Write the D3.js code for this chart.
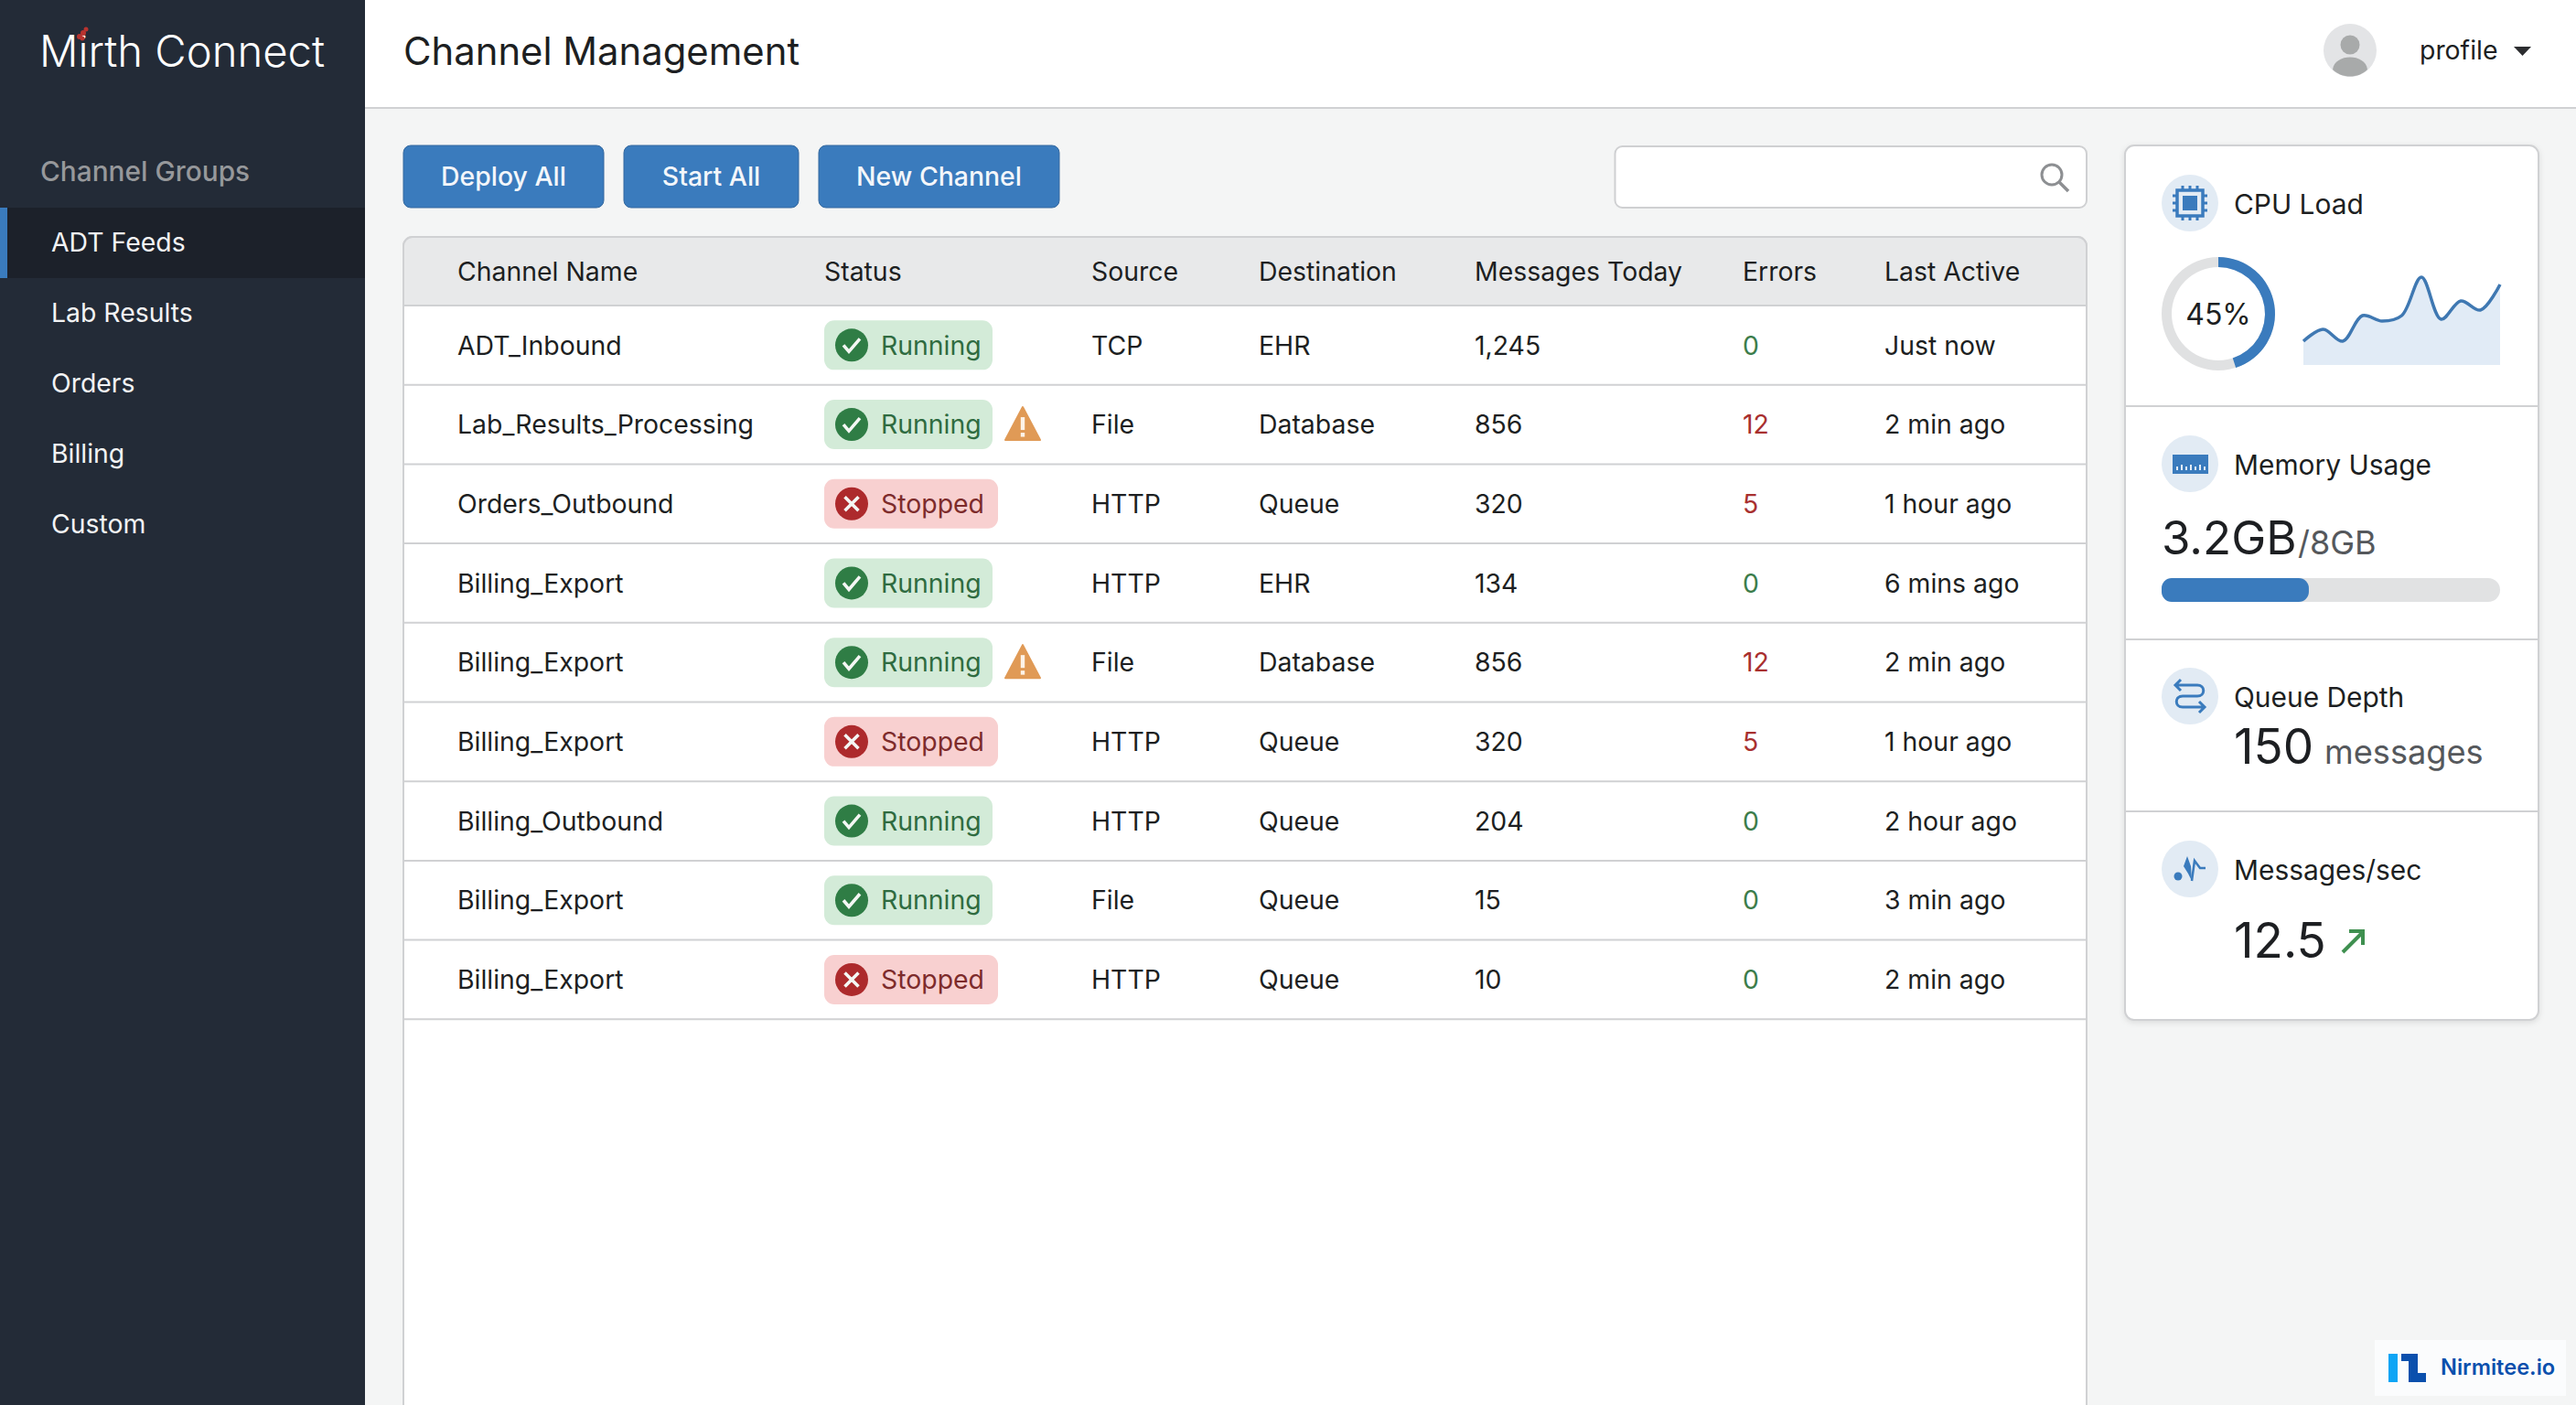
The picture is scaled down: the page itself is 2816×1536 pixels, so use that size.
<!DOCTYPE html>
<html>
<head>
<meta charset="utf-8">
<title>Channel Management</title>
<script src="https://cdn.jsdelivr.net/npm/d3@7"></script>
<style>
  html, body { margin: 0; padding: 0; background: #f4f5f5; }
  svg { display: block; font-family: Inter, Roboto, sans-serif; }
</style>
</head>
<body>
<div id="app"></div>
<script>
// data
var navItems = ["ADT Feeds", "Lab Results", "Orders", "Billing", "Custom"];
var buttonLabels = ["Deploy All", "Start All", "New Channel"];
var columnNames = ["Channel Name", "Status", "Source", "Destination", "Messages Today", "Errors", "Last Active"];

var channelNames = ["ADT_Inbound", "Lab_Results_Processing", "Orders_Outbound", "Billing_Export", "Billing_Export", "Billing_Export", "Billing_Outbound", "Billing_Export", "Billing_Export"];
var statuses = ["Running", "Running", "Stopped", "Running", "Running", "Stopped", "Running", "Running", "Stopped"];
var warnings = [false, true, false, false, true, false, false, false, false];
var sources = ["TCP", "File", "HTTP", "HTTP", "File", "HTTP", "HTTP", "File", "HTTP"];
var destinations = ["EHR", "Database", "Queue", "EHR", "Database", "Queue", "Queue", "Queue", "Queue"];
var messagesToday = [1245, 856, 320, 134, 856, 320, 204, 15, 10];
var errorCounts = [0, 12, 5, 0, 12, 5, 0, 0, 0];
var lastActive = ["Just now", "2 min ago", "1 hour ago", "6 mins ago", "2 min ago", "1 hour ago", "2 hour ago", "3 min ago", "2 min ago"];

var cpuPercent = 45;
var cpuHistory = [26, 39, 26, 54, 48, 54, 96, 50, 70, 60, 88];
var memoryBarPercent = 43.5;
var memoryUsed = "3.2GB";
var memoryTotal = "/8GB";
var queueDepth = 150;
var messagesPerSec = 12.5;

var width = 2816, height = 1536;
var blue = "#3a7bbd", iconBg = "#e2ebf4", lineGrey = "#d0d1d3", ink = "#1d1f22";
var bodySize = 28.4;

var svg = d3.select("#app").append("svg")
  .attr("width", width).attr("height", height)
  .attr("viewBox", "0 0 " + width + " " + height);

function label(g, x, y, txt, size, fill, weight) {
  return g.append("text")
    .attr("x", x).attr("y", y)
    .attr("font-size", size)
    .attr("font-weight", weight || 400)
    .attr("fill", fill || ink)
    .text(txt);
}

// page background + header
svg.append("rect").attr("width", width).attr("height", height).attr("fill", "#f4f5f5");
svg.append("rect").attr("x", 399).attr("width", width - 399).attr("height", 118).attr("fill", "#ffffff");
svg.append("line").attr("x1", 399).attr("x2", width).attr("y1", 118).attr("y2", 118).attr("stroke", lineGrey).attr("stroke-width", 2);

// sidebar
var side = svg.append("g");
side.append("rect").attr("width", 399).attr("height", height).attr("fill", "#232b37");
label(side, 43, 73, "Mirth Connect", 47.2, "#ffffff", 300);
side.append("g").selectAll("circle")
  .data([[87, 40, 3], [91, 36, 3], [94, 32, 2.5], [90, 42, 2.5]])
  .enter().append("circle")
  .attr("cx", function(d) { return d[0]; })
  .attr("cy", function(d) { return d[1]; })
  .attr("r", function(d) { return d[2]; })
  .attr("fill", "#b8332f");
label(side, 44, 198, "Channel Groups", 29.8, "#96989b", 500);

var navY = d3.scaleBand().domain(navItems).range([227, 227 + 77 * navItems.length]);
side.append("rect").attr("y", navY("ADT Feeds")).attr("width", 399).attr("height", navY.bandwidth()).attr("fill", "#1c212a");
side.append("rect").attr("y", navY("ADT Feeds")).attr("width", 8).attr("height", navY.bandwidth()).attr("fill", blue);
side.selectAll("text.nav").data(navItems).enter().append("text")
  .attr("class", "nav")
  .attr("x", 56)
  .attr("y", function(d) { return navY(d) + navY.bandwidth() / 2; })
  .attr("dy", "0.34em")
  .attr("font-size", bodySize)
  .attr("fill", "#f2f3f4")
  .text(function(d) { return d; });

// header texts
label(svg, 441, 71, "Channel Management", 41.8, ink, 400);
svg.append("circle").attr("cx", 2569).attr("cy", 55).attr("r", 29).attr("fill", "#e3e4e6");
svg.append("circle").attr("cx", 2569).attr("cy", 49).attr("r", 10.5).attr("fill", "#a8aaaa");
svg.append("path").attr("d", "M2550,76 C2552,58 2586,58 2588,76 C2578,86 2560,86 2550,76 Z").attr("fill", "#a8aaaa");
label(svg, 2645, 65, "profile", bodySize, ink);
svg.append("path").attr("d", "M2748,51 L2767,51 L2757.5,61 Z").attr("fill", "#2c2d30");

// toolbar buttons
var buttonX = [441, 682, 895], buttonW = [219, 191, 263];
var buttons = svg.selectAll("g.btn").data(buttonLabels).enter().append("g").attr("class", "btn");
buttons.append("rect")
  .attr("x", function(d, i) { return buttonX[i]; })
  .attr("y", 159).attr("height", 68).attr("rx", 8)
  .attr("width", function(d, i) { return buttonW[i]; })
  .attr("fill", blue).attr("stroke", "#35699f").attr("stroke-width", 1);
buttons.append("text")
  .attr("x", function(d, i) { return buttonX[i] + buttonW[i] / 2; })
  .attr("y", 193).attr("dy", "0.36em")
  .attr("text-anchor", "middle")
  .attr("font-size", bodySize).attr("font-weight", 500).attr("fill", "#f3f6fa")
  .text(function(d) { return d; });

// search box
svg.append("rect").attr("x", 1765.5).attr("y", 160).attr("width", 515.5).attr("height", 67).attr("rx", 8)
  .attr("fill", "#ffffff").attr("stroke", "#cfd0d2").attr("stroke-width", 2);
svg.append("circle").attr("cx", 2243).attr("cy", 191).attr("r", 11).attr("fill", "none").attr("stroke", "#8d8f92").attr("stroke-width", 3);
svg.append("line").attr("x1", 2251).attr("y1", 199).attr("x2", 2261).attr("y2", 209).attr("stroke", "#8d8f92").attr("stroke-width", 3.5);

// table
var rowIdx = d3.range(channelNames.length);
var rowY = d3.scaleBand().domain(rowIdx).range([334, 334 + 86.7 * rowIdx.length]);
var colX = d3.scaleOrdinal().domain(columnNames).range([500, 901, 1193, 1376, 1612, 1905, 2060]);
var tableLeft = 441, tableRight = 2281;

var table = svg.append("g");
table.append("path")
  .attr("d", "M" + tableLeft + "," + (height + 5) + " V269 a10,10 0 0 1 10,-10 H" + (tableRight - 10) + " a10,10 0 0 1 10,10 V" + (height + 5) + " Z")
  .attr("fill", "#ffffff").attr("stroke", lineGrey).attr("stroke-width", 2);
table.append("path")
  .attr("d", "M" + tableLeft + ",334 V269 a10,10 0 0 1 10,-10 H" + (tableRight - 10) + " a10,10 0 0 1 10,10 V334 Z")
  .attr("fill", "#e8e9ea").attr("stroke", lineGrey).attr("stroke-width", 2);

table.selectAll("text.head").data(columnNames).enter().append("text")
  .attr("class", "head")
  .attr("x", function(d) { return colX(d); })
  .attr("y", 297).attr("dy", "0.36em")
  .attr("font-size", bodySize).attr("fill", ink)
  .text(function(d) { return d; });

table.selectAll("line.rowline").data(rowIdx).enter().append("line")
  .attr("class", "rowline")
  .attr("x1", tableLeft).attr("x2", tableRight)
  .attr("y1", function(d) { return rowY(d) + rowY.bandwidth(); })
  .attr("y2", function(d) { return rowY(d) + rowY.bandwidth(); })
  .attr("stroke", lineGrey).attr("stroke-width", 2);

var statusStyle = {
  Running: { pill: "#d3ebd8", icon: "#2f7d45", text: "#2f6b40", w: 184 },
  Stopped: { pill: "#f8d0d0", icon: "#ad2a2c", text: "#7d2b2b", w: 190 }
};

var rows = table.selectAll("g.row").data(rowIdx).enter().append("g")
  .attr("class", "row")
  .attr("transform", function(d) { return "translate(0," + (rowY(d) + rowY.bandwidth() / 2) + ")"; });

function cell(col, valueOf, fillOf) {
  rows.append("text")
    .attr("x", colX(col)).attr("dy", "0.36em")
    .attr("font-size", bodySize)
    .attr("fill", fillOf || ink)
    .text(valueOf);
}
cell("Channel Name", function(d) { return channelNames[d]; });
cell("Source", function(d) { return sources[d]; });
cell("Destination", function(d) { return destinations[d]; });
cell("Messages Today", function(d) { return d3.format(",")(messagesToday[d]); });
cell("Errors", function(d) { return errorCounts[d]; }, function(d) { return errorCounts[d] > 0 ? "#a8302f" : "#3c7d4b"; });
cell("Last Active", function(d) { return lastActive[d]; });

// status pills
rows.append("rect")
  .attr("x", colX("Status")).attr("y", -27).attr("height", 54).attr("rx", 11)
  .attr("width", function(d) { return statusStyle[statuses[d]].w; })
  .attr("fill", function(d) { return statusStyle[statuses[d]].pill; });
rows.append("circle")
  .attr("cx", colX("Status") + 30).attr("r", 18)
  .attr("fill", function(d) { return statusStyle[statuses[d]].icon; });
rows.append("path")
  .attr("transform", "translate(" + (colX("Status") + 30) + ",0)")
  .attr("d", function(d) { return statuses[d] === "Running" ? "M-9,0 L-3,7 L9,-7" : "M-7.5,-7.5 L7.5,7.5 M7.5,-7.5 L-7.5,7.5"; })
  .attr("fill", "none").attr("stroke", "#f4f7f4").attr("stroke-width", 3.6);
rows.append("text")
  .attr("x", colX("Status") + 62).attr("dy", "0.36em")
  .attr("font-size", bodySize)
  .attr("fill", function(d) { return statusStyle[statuses[d]].text; })
  .text(function(d) { return statuses[d]; });

// warning triangles
var warn = rows.filter(function(d) { return warnings[d]; }).append("g").attr("transform", "translate(1118,0)");
warn.append("path").attr("d", "M0,-19 L19,17 L-19,17 Z").attr("fill", "#e09a56").attr("stroke", "#e09a56").attr("stroke-width", 2).attr("stroke-linejoin", "round");
warn.append("rect").attr("x", -2.2).attr("y", -8).attr("width", 4.4).attr("height", 14).attr("fill", "#fdf3e8");
warn.append("rect").attr("x", -2.2).attr("y", 9).attr("width", 4.4).attr("height", 4.5).attr("fill", "#fdf3e8");

// metric card
var card = svg.append("g");
card.append("rect").attr("x", 2323).attr("y", 159).attr("width", 452).attr("height", 956).attr("rx", 10)
  .attr("fill", "#ffffff").attr("stroke", lineGrey).attr("stroke-width", 2)
  .style("filter", "drop-shadow(0 2px 3px rgba(0,0,0,0.10))");
[444, 699, 887].forEach(function(y) {
  card.append("line").attr("x1", 2323).attr("x2", 2775).attr("y1", y).attr("y2", y).attr("stroke", lineGrey).attr("stroke-width", 2);
});

function metricHead(cy, title) {
  card.append("circle").attr("cx", 2394).attr("cy", cy).attr("r", 31).attr("fill", iconBg);
  label(card, 2442, cy + 1, title, 29.9).attr("dy", "0.36em");
  return card.append("g").attr("transform", "translate(2394," + cy + ")");
}

// cpu
var chip = metricHead(222, "CPU Load");
chip.append("rect").attr("x", -14).attr("y", -14).attr("width", 28).attr("height", 28).attr("fill", "none").attr("stroke", blue).attr("stroke-width", 3.5);
chip.append("rect").attr("x", -8).attr("y", -8).attr("width", 16).attr("height", 16).attr("fill", blue);
[-8, 0, 8].forEach(function(p) {
  chip.append("path").attr("d", "M" + p + ",-19 V-14 M" + p + ",14 V19 M-19," + p + " H-14 M14," + p + " H19")
    .attr("stroke", blue).attr("stroke-width", 3).attr("fill", "none");
});

var gaugeAngle = d3.scaleLinear().domain([0, 100]).range([0, 2 * Math.PI]);
var gauge = card.append("g").attr("transform", "translate(2425,343)");
var gaugeArc = d3.arc().innerRadius(51).outerRadius(62).startAngle(0);
gauge.append("path").attr("d", gaugeArc({ endAngle: gaugeAngle(100) })).attr("fill", "#e0e1e2");
gauge.append("path").attr("d", gaugeArc({ endAngle: gaugeAngle(cpuPercent) })).attr("fill", blue);
gauge.append("text").attr("text-anchor", "middle").attr("dy", "0.36em").attr("font-size", 32).attr("fill", ink).text(cpuPercent + "%");

var sparkX = d3.scalePoint().domain(d3.range(cpuHistory.length)).range([2518, 2733]);
var sparkY = d3.scaleLinear().domain([0, 100]).range([399, 299]);
var sparkArea = d3.area().x(function(d, i) { return sparkX(i); }).y0(sparkY(0)).y1(function(d) { return sparkY(d); }).curve(d3.curveCatmullRom);
var sparkLine = d3.line().x(function(d, i) { return sparkX(i); }).y(function(d) { return sparkY(d); }).curve(d3.curveCatmullRom);
card.append("path").datum(cpuHistory).attr("d", sparkArea).attr("fill", "#e1ebf6");
card.append("path").datum(cpuHistory).attr("d", sparkLine).attr("fill", "none").attr("stroke", "#3f78b2").attr("stroke-width", 3.5);

// memory
var mem = metricHead(507, "Memory Usage");
mem.append("rect").attr("x", -19).attr("y", -10).attr("width", 39).attr("height", 21).attr("fill", blue);
d3.range(-15, 18, 5).forEach(function(p, i) {
  mem.append("rect").attr("x", p).attr("y", i % 2 ? 1 : 3).attr("width", 2).attr("height", i % 2 ? 6 : 4).attr("fill", "#e4edf6");
});
label(card, 2363, 606, memoryUsed, 51, ink);
label(card, 2512, 606, memoryTotal, 36, "#55585c");
var memX = d3.scaleLinear().domain([0, 100]).range([2363, 2733]);
card.append("rect").attr("x", memX(0)).attr("y", 632).attr("width", memX(100) - memX(0)).attr("height", 26).attr("rx", 13).attr("fill", "#e1e2e3");
card.append("rect").attr("x", memX(0)).attr("y", 632).attr("width", memX(memoryBarPercent) - memX(0)).attr("height", 26).attr("rx", 11).attr("fill", blue);

// queue
var q = metricHead(761, "Queue Depth");
q.append("path")
  .attr("d", "M-16,-12 H8 C17,-12 17,0 8,0 H-8 C-17,0 -17,12 -8,12 H16 M-10,-18 L-16,-12 L-10,-6 M10,6 L16,12 L10,18")
  .attr("fill", "none").attr("stroke", blue).attr("stroke-width", 3);
label(card, 2442, 835, queueDepth, 53, ink);
label(card, 2541, 835, "messages", 36.2, "#55585c");

// messages/sec
var m = metricHead(950, "Messages/sec");
m.append("circle").attr("cx", -13).attr("cy", 8).attr("r", 4.5).attr("fill", blue);
m.append("path").attr("d", "M-7,-3 L-3,-14 L1,-3 L2,13 L-2,5 Z").attr("fill", blue);
m.append("path").attr("d", "M2,13 L5,-9 L11,-1 L17,-1").attr("fill", "none").attr("stroke", blue).attr("stroke-width", 2.5);
label(card, 2442, 1047, messagesPerSec, 53, ink);
card.append("path").attr("d", "M2561,1041 L2583,1019 M2568,1018 H2583 V1033")
  .attr("fill", "none").attr("stroke", "#3f9050").attr("stroke-width", 4);

// watermark
var mark = svg.append("g");
mark.append("rect").attr("x", 2596).attr("y", 1465).attr("width", 209).attr("height", 61).attr("fill", "#fbfcfd");
mark.append("rect").attr("x", 2611).attr("y", 1480).attr("width", 10).attr("height", 31).attr("fill", "#0ea5f5");
mark.append("path").attr("d", "M2625,1480 H2643 V1501 H2652 V1511 H2633 V1488 H2625 Z").attr("fill", "#0b50ad");
label(mark, 2668, 1503, "Nirmitee.io", 23.6, "#0b50ad", 600);
</script>
</body>
</html>
